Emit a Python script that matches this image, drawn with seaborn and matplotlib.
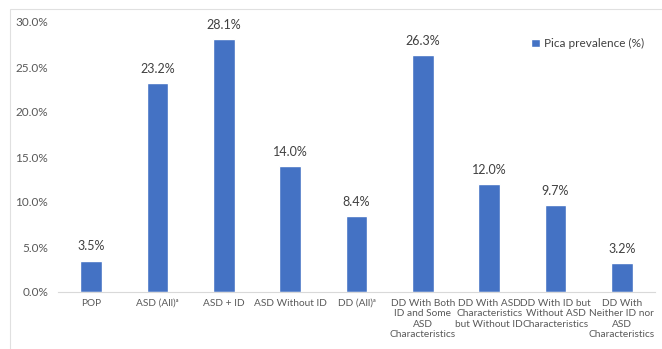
import pandas as pd
import seaborn as sns
import matplotlib.pyplot as plt
from matplotlib.patches import Rectangle

categories = ["POP", "ASD (All)ᵃ", "ASD + ID", "ASD Without ID", "DD (All)ᵃ",
              "DD With Both\nID and Some\nASD\nCharacteristics",
              "DD With ASD\nCharacteristics\nbut Without ID",
              "DD With ID but\nWithout ASD\nCharacteristics",
              "DD With\nNeither ID nor\nASD\nCharacteristics"]
prevalence = [3.5, 23.2, 28.1, 14.0, 8.4, 26.3, 12.0, 9.7, 3.2]

df = pd.DataFrame({"Group": categories, "Prevalence": prevalence})

sns.set_style("white")
plt.rcParams['font.family'] = ['Lato', 'DejaVu Sans']

fig = plt.figure(figsize=(6.62, 3.49), dpi=100)
ax = fig.add_axes([58/662, 1-292/349, 597/662, 270/349])
sns.barplot(data=df, x="Group", y="Prevalence", color="#4472C4", width=0.33,
            saturation=1, ax=ax, label="Pica prevalence (%)")

ax.set_ylim(0, 30)
ax.set_yticks([0, 5, 10, 15, 20, 25, 30])
ax.set_yticklabels([f"{v:.1f}%" for v in [0, 5, 10, 15, 20, 25, 30]], fontsize=8.5)
ax.set_xlabel("")
ax.set_ylabel("")
ax.tick_params(axis='y', length=0, colors="#595959", pad=7)
ax.tick_params(axis='x', length=0, colors="#595959", pad=5)
for t in ax.get_xticklabels():
    t.set_fontsize(7.3)
    t.set_linespacing(1.2)
for s in ["top", "right", "left"]:
    ax.spines[s].set_visible(False)
ax.spines["bottom"].set_color("#D9D9D9")

for i, v in enumerate(prevalence):
    ax.text(i, v + 0.9, f"{v:.1f}%", ha="center", va="bottom", fontsize=9,
            color="#404040")

ax.legend(loc="upper right", bbox_to_anchor=(1.0, 0.98), frameon=False,
          fontsize=8.5, handlelength=0.7, handleheight=0.7, handletextpad=0.4,
          labelcolor="#404040")

fig.patches.append(Rectangle((10/662, -0.1), 2, 1-9/349 + 0.1, transform=fig.transFigure,
                             fill=False, edgecolor="#E0E0E0", linewidth=0.8))

plt.savefig("out.png", dpi=100)
plt.close()
